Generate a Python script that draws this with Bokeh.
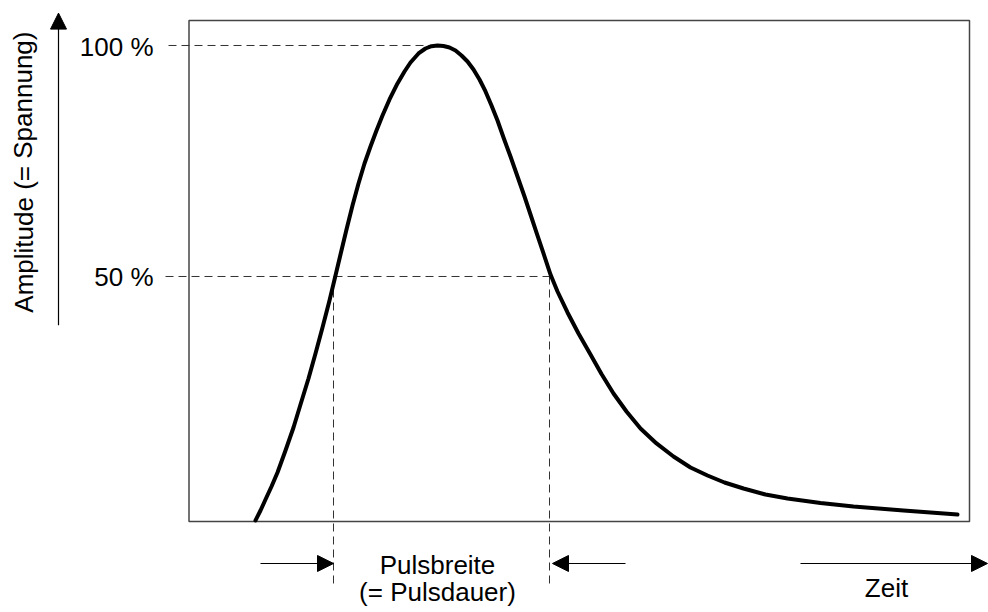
from bokeh.plotting import figure
from bokeh.models import Range1d, Arrow, NormalHead
from bokeh.core.properties import value
from bokeh.embed import file_html
from bokeh.resources import INLINE

# Pulse curve (time in arbitrary units, amplitude in % of peak)
time = [6.7, 7.2, 7.7, 8.3, 8.9, 9.7, 10.5, 11.2, 12.0, 12.7, 13.4, 14.1, 14.7,
        15.2, 15.8, 16.4, 17.0, 17.6, 18.2, 18.8, 19.4, 20.1, 20.9, 21.6, 22.2,
        23.0, 23.7, 24.3, 24.9, 25.5, 26.1, 26.7, 27.3, 27.9, 28.5, 29.1, 29.7,
        30.3, 30.9, 31.5, 32.2, 32.9, 33.6, 34.2, 34.8, 35.5, 36.2, 36.9, 37.9,
        39.0, 40.2, 41.3, 42.5, 43.8, 45.2, 46.8, 48.5, 50.2, 51.9, 53.6, 55.5,
        57.7, 59.9, 63.2, 66.5, 69.0, 71.5, 74.2, 76.9]
amplitude = [-2.81, -0.65, 1.73, 4.54, 7.57, 12.34, 17.32, 22.29, 27.92, 33.33,
             38.97, 44.81, 50.22, 54.76, 60.17, 65.37, 70.13, 74.46, 78.14, 81.60,
             84.84, 88.32, 91.78, 94.37, 96.32, 98.27, 99.35, 99.85, 100.0, 99.89,
             99.56, 98.92, 97.84, 96.54, 94.81, 92.64, 90.05, 87.01, 83.76, 80.08,
             75.97, 71.65, 67.32, 63.42, 59.52, 54.98, 50.43, 46.75, 42.21, 37.67,
             33.11, 28.90, 24.67, 20.78, 17.10, 13.86, 11.04, 8.65, 6.92, 5.41,
             4.11, 2.81, 1.95, 0.98, 0.22, -0.22, -0.65, -1.08, -1.52]
peak_time = 24.9
half_times = [14.5, 36.1]
level_values = [100, 50]
level_labels = ["100 %", "50 %"]

FONT = value("Liberation Sans")
FS = "26px"

p = figure(width=988, height=612, output_backend="svg", toolbar_location=None,
           x_range=Range1d(-18.8, 80.0), y_range=Range1d(-22.73, 109.74),
           min_border=0, min_border_left=0, min_border_right=0,
           min_border_top=0, min_border_bottom=0)
p.xaxis.visible = False
p.yaxis.visible = False
p.grid.visible = False
p.outline_line_color = None
p.background_fill_color = "white"
p.border_fill_color = "white"

# plot box
p.quad(left=[0.05], right=[78.1], bottom=[-3.03], top=[105.41],
       fill_color=None, line_color="#444444", line_width=1.5)

# dashed level lines
DASH_COLOR = "#333333"
p.line([-2.0, peak_time], [level_values[0]] * 2, line_color=DASH_COLOR,
       line_width=1, line_dash="8 5")
p.line([-2.3, half_times[1]], [level_values[1]] * 2, line_color=DASH_COLOR,
       line_width=1, line_dash="8 5")
for ht in half_times:
    p.line([ht, ht], [level_values[1], -17.36], line_color=DASH_COLOR,
           line_width=1, line_dash="8 5")

# curve
p.line(time, amplitude, line_color="black", line_width=4, line_join="round",
       line_cap="round")

# level labels
p.text(x=[-3.5, -3.5], y=[99.59, 49.83], text=level_labels, text_font=FONT,
       text_font_size=FS, text_align="right", text_baseline="alphabetic",
       text_color="black")

# y label
p.text(x=[-16.5], y=[72.6], text=["Amplitude (= Spannung)"], angle=1.5708,
       text_font=FONT, text_font_size=FS, text_align="center",
       text_baseline="alphabetic", text_color="black")

# bottom labels
p.text(x=[24.9, 24.9], y=[-12.55, -18.38], text=["Pulsbreite", "(= Pulsdauer)"],
       text_font=FONT, text_font_size=FS, text_align="center",
       text_baseline="alphabetic", text_color="black")
p.text(x=[69.8], y=[-17.36], text=["Zeit"], text_font=FONT, text_font_size=FS,
       text_align="center", text_baseline="alphabetic", text_color="black")

# arrows
def arrow(x0, y0, x1, y1):
    p.add_layout(Arrow(end=NormalHead(size=16, fill_color="black", line_color="black"),
                       x_start=x0, y_start=y0, x_end=x1, y_end=y1,
                       line_color="black", line_width=1.2))

arrow(-13.0, 39.42, -13.0, 107.01)
arrow(7.2, -12.12, half_times[0], -12.12)
arrow(43.7, -12.12, 36.4, -12.12)
arrow(61.2, -12.12, 79.9, -12.12)

open("out.html", "w").write(file_html(p, INLINE))
